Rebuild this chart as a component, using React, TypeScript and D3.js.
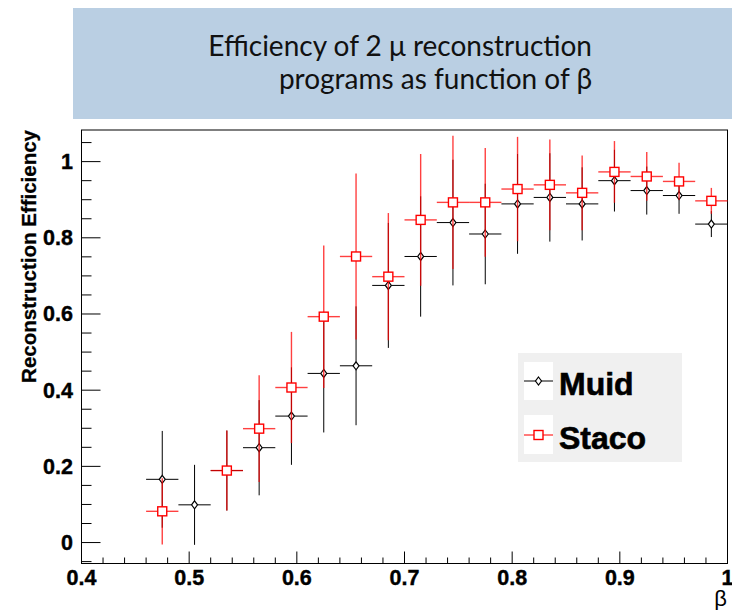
import React from "react";
import * as d3 from "d3";

// Bin centres in beta (bin width 0.03)
const betaBins = [0.475, 0.505, 0.535, 0.565, 0.595, 0.625, 0.655, 0.685, 0.715, 0.745, 0.775, 0.805, 0.835, 0.865, 0.895, 0.925, 0.955, 0.985];
const binHalfWidth = 0.015;

// Muid efficiency and its error per bin
const muidEff = [0.166, 0.099, 0.189, 0.249, 0.332, 0.444, 0.464, 0.675, 0.751, 0.84, 0.81, 0.889, 0.906, 0.889, 0.95, 0.924, 0.911, 0.836];
const muidErr = [0.127, 0.105, 0.105, 0.125, 0.128, 0.155, 0.156, 0.164, 0.158, 0.165, 0.132, 0.131, 0.116, 0.096, 0.081, 0.063, 0.048, 0.034];

// Staco efficiency and its error per bin (no entry in the second bin)
const stacoEff = [0.082, null, 0.189, 0.299, 0.407, 0.593, 0.751, 0.698, 0.847, 0.893, 0.893, 0.928, 0.939, 0.918, 0.973, 0.961, 0.948, 0.897];
const stacoErr = [0.087, null, 0.105, 0.14, 0.146, 0.187, 0.218, 0.167, 0.173, 0.175, 0.143, 0.137, 0.119, 0.098, 0.081, 0.064, 0.049, 0.034];

const xTickValues = [0.4, 0.5, 0.6, 0.7, 0.8, 0.9, 1.0];
const xTickLabels = ["0.4", "0.5", "0.6", "0.7", "0.8", "0.9", "1"];
const yTickValues = [0, 0.2, 0.4, 0.6, 0.8, 1.0];
const yTickLabels = ["0", "0.2", "0.4", "0.6", "0.8", "1"];

const titleLines = ["Efficiency of 2 \u03bc reconstruction", "programs as function of \u03b2"];
const legendNames = ["Muid", "Staco"];

const W = 732;
const H = 610;
const frame = { left: 81.5, right: 727.5, top: 130, bottom: 563.5 };

const x = d3.scaleLinear().domain([0.4, 1.0]).range([frame.left, frame.right]);
const y = d3.scaleLinear().domain([-0.055, 1.083]).range([frame.bottom, frame.top]);

const RED = "#ff0000";
const AXIS_FONT = "'Liberation Sans', Arial, Helvetica, sans-serif";

type Pt = { b: number; v: number; e: number };

function buildPoints(vals: (number | null)[], errs: (number | null)[]): Pt[] {
  const out: Pt[] = [];
  betaBins.forEach((b, i) => {
    const v = vals[i];
    const e = errs[i];
    if (v != null && e != null) out.push({ b, v, e });
  });
  return out;
}

const muidPts = buildPoints(muidEff, muidErr);
const stacoPts = buildPoints(stacoEff, stacoErr);

function ErrorBars({ pts, color, opacity, gapX, gapY, width }: { pts: Pt[]; color: string; opacity: number; gapX: number; gapY: number; width: number }) {
  return (
    <g stroke={color} strokeOpacity={opacity} strokeWidth={width} fill="none">
      {pts.map((p, i) => {
        const cx = x(p.b);
        const cy = y(p.v);
        const x0 = x(p.b - binHalfWidth);
        const x1 = x(p.b + binHalfWidth);
        const yTop = y(p.v + p.e);
        const yBot = y(p.v - p.e);
        return (
          <g key={i}>
            <line x1={x0} x2={cx - gapX} y1={cy} y2={cy} />
            <line x1={cx + gapX} x2={x1} y1={cy} y2={cy} />
            {yTop < cy - gapY && <line x1={cx} x2={cx} y1={yTop} y2={cy - gapY} />}
            {yBot > cy + gapY && <line x1={cx} x2={cx} y1={cy + gapY} y2={yBot} />}
          </g>
        );
      })}
    </g>
  );
}

function Diamond({ cx, cy }: { cx: number; cy: number }) {
  const hw = 3;
  const hh = 4;
  return (
    <path
      d={`M${cx},${cy - hh}L${cx + hw},${cy}L${cx},${cy + hh}L${cx - hw},${cy}Z`}
      fill="#fff"
      stroke="#000"
      strokeWidth={1.2}
    />
  );
}

function Square({ cx, cy }: { cx: number; cy: number }) {
  const h = 4.5;
  return <rect x={cx - h} y={cy - h} width={2 * h} height={2 * h} fill="#fff" stroke={RED} strokeWidth={1.4} />;
}

export default function App() {
  const xMinor = d3.range(0.4, 1.0001, 0.02);
  const yMinor = d3.range(-0.05, 1.0801, 0.05);

  return (
    <svg width={W} height={H} style={{ position: "absolute", left: 0, top: 0, background: "#fff" }}>
      {/* title banner */}
      <rect x={73} y={8} width={W - 73} height={111} fill="#bacfe3" />
      <g fontFamily="Lato, 'Open Sans', sans-serif" fontSize={28} fill="#111" textAnchor="end">
        <text x={592} y={56}>{titleLines[0]}</text>
        <text x={592} y={89}>{titleLines[1]}</text>
      </g>

      {/* frame */}
      <rect x={frame.left} y={frame.top} width={frame.right - frame.left} height={frame.bottom - frame.top} fill="#fff" stroke="#000" strokeWidth={1} />

      {/* ticks */}
      <g stroke="#000" strokeWidth={1}>
        {xMinor.map((v, i) => {
          const major = Math.abs(v * 10 - Math.round(v * 10)) < 1e-6;
          return <line key={i} x1={x(v)} x2={x(v)} y1={frame.bottom} y2={frame.bottom - (major ? 12 : 6)} />;
        })}
        {yMinor.map((v, i) => {
          const major = Math.abs(v * 5 - Math.round(v * 5)) < 1e-6;
          return <line key={i} x1={frame.left} x2={frame.left + (major ? 19 : 10)} y1={y(v)} y2={y(v)} />;
        })}
      </g>

      {/* tick labels */}
      <g fontFamily={AXIS_FONT} fontWeight="bold" fontSize={21.5} fill="#000" stroke="#000" strokeWidth={0.4}>
        {xTickValues.map((v, i) => (
          <text key={i} x={x(v)} y={585} textAnchor="middle">{xTickLabels[i]}</text>
        ))}
        {yTickValues.map((v, i) => (
          <text key={i} x={73} y={y(v) + 7.5} textAnchor="end">{yTickLabels[i]}</text>
        ))}
      </g>

      {/* axis titles */}
      <text x={727} y={606} textAnchor="end" fontFamily={AXIS_FONT} fontSize={22} fill="#000">{"\u03b2"}</text>
      <text
        transform={`translate(36,${frame.top}) rotate(-90)`}
        textAnchor="end"
        fontFamily={AXIS_FONT}
        fontWeight="bold"
        fontSize={20.5}
        fill="#000"
        stroke="#000"
        strokeWidth={0.3}
      >
        Reconstruction Efficiency
      </text>

      {/* Muid points */}
      <ErrorBars pts={muidPts} color="#000" opacity={1} gapX={3} gapY={4} width={1} />
      {muidPts.map((p, i) => (
        <Diamond key={i} cx={x(p.b)} cy={y(p.v)} />
      ))}

      {/* Staco points */}
      <ErrorBars pts={stacoPts} color={RED} opacity={0.75} gapX={4.5} gapY={4.5} width={1.4} />
      {stacoPts.map((p, i) => (
        <Square key={i} cx={x(p.b)} cy={y(p.v)} />
      ))}

      {/* legend */}
      <rect x={518} y={353} width={164} height={109} fill="#f0f0f0" />
      <rect x={524} y={362} width={29} height={38} fill="#fff" />
      <rect x={524} y={415} width={29} height={39} fill="#fff" />
      <line x1={524} x2={553} y1={381} y2={381} stroke="#000" strokeWidth={1} />
      <Diamond cx={538.5} cy={381} />
      <line x1={524} x2={553} y1={435} y2={435} stroke={RED} strokeOpacity={0.8} strokeWidth={1.3} />
      <Square cx={538.5} cy={435} />
      <g fontFamily={AXIS_FONT} fontWeight="bold" fontSize={32} fill="#000" stroke="#000" strokeWidth={0.6}>
        <text x={559} y={395}>{legendNames[0]}</text>
        <text x={559} y={449}>{legendNames[1]}</text>
      </g>
    </svg>
  );
}
